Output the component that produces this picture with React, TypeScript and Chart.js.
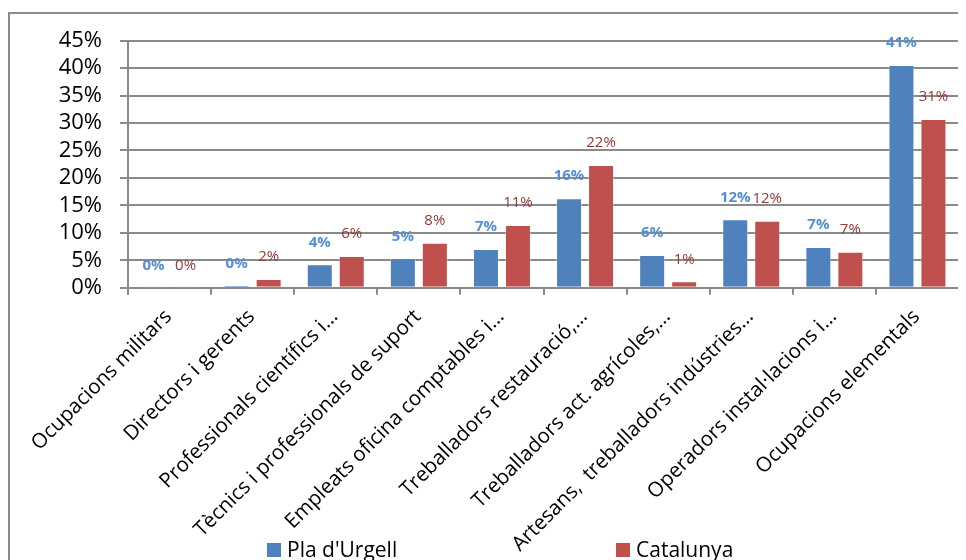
import React, { useEffect, useRef } from "react";
import { Chart, registerables } from "chart.js";

Chart.register(...registerables);

const categories = [
  "Ocupacions militars",
  "Directors i gerents",
  "Professionals científics i…",
  "Tècnics i professionals de suport",
  "Empleats oficina comptables i…",
  "Treballadors restauració,…",
  "Treballadors act. agrícoles,…",
  "Artesans,  treballadors indústries…",
  "Operadors instal·lacions i…",
  "Ocupacions elementals",
];

const plaUrgell = [0.05, 0.44, 4.26, 5.36, 7.05, 16.3, 5.96, 12.46, 7.41, 40.57];
const catalunya = [0.05, 1.6, 5.78, 8.2, 11.42, 22.35, 1.16, 12.2, 6.56, 30.73];

const seriesNames = ["Pla d'Urgell", "Catalunya"];
const barColors = ["#4F81BD", "#C0504D"];
const labelColors = ["#558ED5", "#953735"];

const yMax = 45;
const yStep = 5;

const FONT = "'Open Sans', Lato, sans-serif";
const GRID = "#8a8a8a";

const W = 958;
const H = 552;

const valueLabels = {
  id: "valueLabels",
  afterDatasetsDraw(chart: any) {
    const ctx = chart.ctx;
    ctx.save();
    ctx.textAlign = "center";
    ctx.textBaseline = "middle";
    chart.data.datasets.forEach((ds: any, di: number) => {
      const meta = chart.getDatasetMeta(di);
      ctx.font = (di === 0 ? "bold " : "") + "15px " + FONT;
      ctx.fillStyle = labelColors[di];
      meta.data.forEach((bar: any, i: number) => {
        const v = ds.data[i];
        ctx.fillText(Math.round(v) + "%", bar.x, bar.y - 22);
      });
    });
    ctx.restore();
  },
};

const bottomLegend = {
  id: "bottomLegend",
  afterDraw(chart: any) {
    const ctx = chart.ctx;
    ctx.save();
    ctx.font = "21px " + FONT;
    ctx.textBaseline = "middle";
    ctx.textAlign = "left";
    const x0 = 259;
    const spacing = 349;
    const y = 542;
    chart.data.datasets.forEach((ds: any, di: number) => {
      const x = x0 + di * spacing;
      ctx.fillStyle = ds.backgroundColor;
      ctx.fillRect(x, y - 7, 14, 14);
      ctx.fillStyle = "#000";
      ctx.fillText(ds.label, x + 20, y + 1);
    });
    ctx.restore();
  },
};

export default function App() {
  const ref = useRef<HTMLCanvasElement | null>(null);

  useEffect(() => {
    if (!ref.current) return;
    const chart = new Chart(ref.current, {
      type: "bar",
      data: {
        labels: categories,
        datasets: [
          {
            label: seriesNames[0],
            data: plaUrgell,
            backgroundColor: barColors[0],
            borderColor: "rgba(255,255,255,0.35)",
            borderWidth: 1,
            categoryPercentage: 0.77,
            barPercentage: 0.8125,
          },
          {
            label: seriesNames[1],
            data: catalunya,
            backgroundColor: barColors[1],
            borderColor: "rgba(255,255,255,0.35)",
            borderWidth: 1,
            categoryPercentage: 0.77,
            barPercentage: 0.8125,
          },
        ],
      },
      options: {
        animation: false,
        responsive: false,
        maintainAspectRatio: false,
        devicePixelRatio: 1,
        layout: { padding: { left: 0, top: 32.7, right: 7, bottom: 0 } },
        plugins: {
          legend: { display: false },
          tooltip: { enabled: false },
        },
        scales: {
          x: {
            grid: {
              display: true,
              drawOnChartArea: false,
              drawTicks: true,
              tickLength: 7,
              color: GRID,
              lineWidth: 2,
              offset: true,
            },
            border: { display: true, color: GRID, width: 2 },
            ticks: {
              autoSkip: false,
              maxRotation: 45,
              minRotation: 45,
              padding: 10,
              labelOffset: -1,
              color: "#000",
              font: { family: FONT, size: 20.5, lineHeight: 1.2 },
            },
            afterFit: (s: any) => {
              s.height = H - 279.7;
            },
          },
          y: {
            min: 0,
            max: yMax,
            ticks: {
              stepSize: yStep,
              autoSkip: false,
              maxTicksLimit: 20,
              padding: 18,
              color: "#000",
              font: { family: FONT, size: 22, lineHeight: 1 },
              callback: (v: any) => v + "%",
            },
            grid: {
              color: GRID,
              lineWidth: 2,
              tickLength: 8,
              drawTicks: true,
            },
            border: { display: true, color: GRID, width: 2 },
            afterFit: (s: any) => {
              s.width = 120;
            },
          },
        },
      },
      plugins: [valueLabels, bottomLegend],
    });
    return () => chart.destroy();
  }, []);

  return (
    <div style={{ position: "relative", width: W, height: H, overflow: "hidden" }}>
      <div
        style={{
          position: "absolute",
          left: 0,
          top: 4,
          width: W + 40,
          height: H + 40,
          borderLeft: "2px solid #8c8c8c",
          borderTop: "2px solid #8c8c8c",
          boxSizing: "border-box",
        }}
      />
      <canvas
        ref={ref}
        width={W}
        height={H}
        style={{ position: "absolute", left: 0, top: 0, width: W, height: H }}
      />
    </div>
  );
}
